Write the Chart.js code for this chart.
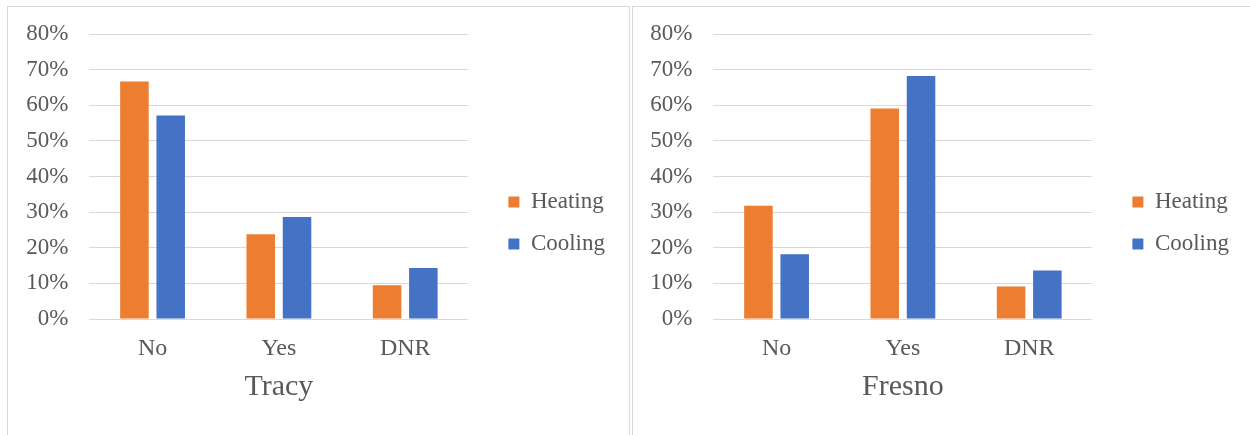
<!DOCTYPE html>
<html>
<head>
<meta charset="utf-8">
<script src="https://cdn.jsdelivr.net/npm/chart.js@4/dist/chart.umd.min.js"></script>
<style>
  html, body { margin: 0; padding: 0; background: #ffffff; overflow: hidden; }
  body { width: 1250px; height: 435px; position: relative; }
  .frame { position: absolute; border: 1px solid #d9d9d9; box-sizing: border-box; }
  canvas { position: absolute; }
</style>
</head>
<body>
<div class="frame" style="left:7px; top:6px; width:623px; height:460px;"></div>
<div class="frame" style="left:632px; top:6px; width:700px; height:460px;"></div>
<canvas id="tracy" width="621" height="430" style="left:8px; top:7px;"></canvas>
<canvas id="fresno" width="621" height="430" style="left:632px; top:7px;"></canvas>
<script>
// Survey answers by site, share of respondents (%)
const categories = ['No', 'Yes', 'DNR'];
const seriesNames = ['Heating', 'Cooling'];
const tracyHeating = [66.7, 23.8, 9.5];
const tracyCooling = [57.1, 28.6, 14.3];
const fresnoHeating = [31.8, 59.1, 9.1];
const fresnoCooling = [18.2, 68.2, 13.6];
const yTicks = [0, 10, 20, 30, 40, 50, 60, 70, 80];

const ORANGE = '#ED7D31';
const BLUE = '#4472C4';
const TEXT = '#595959';
const GRID = '#d9d9d9';
const SERIF = '"Liberation Serif", "Times New Roman", serif';

Chart.defaults.font.family = SERIF;
Chart.defaults.color = TEXT;

function makeChart(id, title, heating, cooling) {
  return new Chart(document.getElementById(id), {
    type: 'bar',
    data: {
      labels: categories,
      datasets: [
        { label: seriesNames[0], data: heating, backgroundColor: ORANGE, borderWidth: 0,
          categoryPercentage: 0.5745, barPercentage: 0.786 },
        { label: seriesNames[1], data: cooling, backgroundColor: BLUE, borderWidth: 0,
          categoryPercentage: 0.5745, barPercentage: 0.786 }
      ]
    },
    options: {
      responsive: false,
      animation: false,
      devicePixelRatio: 1,
      layout: { padding: { top: 27, right: 14, bottom: 25, left: 0 } },
      plugins: {
        tooltip: { enabled: false },
        legend: {
          position: 'right',
          maxWidth: 300,
          labels: {
            font: { size: 23, family: SERIF },
            color: TEXT,
            boxWidth: 11,
            boxHeight: 11,
            padding: 19
          }
        }
      },
      scales: {
        x: {
          grid: { display: false, drawTicks: false },
          border: { display: false },
          ticks: { font: { size: 24, family: SERIF }, color: TEXT, padding: 15 },
          title: { display: true, text: title, font: { size: 30, family: SERIF }, color: TEXT,
                   padding: { top: 4, bottom: 7 } },
          afterFit: (s) => { s.height = 93; }
        },
        y: {
          min: 0, max: 80,
          afterBuildTicks: (s) => { s.ticks = yTicks.map(v => ({ value: v })); },
          grid: { color: GRID, lineWidth: 1, drawTicks: false },
          border: { display: false },
          ticks: { font: { size: 23, family: SERIF }, color: TEXT, padding: 21,
                   callback: (v) => v + '%' },
          afterFit: (s) => { s.width = 81.4; s.paddingTop = 0; s.paddingBottom = 0; }
        },
        gap: {
          position: 'right',
          display: true,
          grid: { display: false },
          border: { display: false },
          ticks: { display: false },
          afterFit: (s) => { s.width = 21; }
        }
      }
    }
  });
}

makeChart('tracy', 'Tracy', tracyHeating, tracyCooling);
makeChart('fresno', 'Fresno', fresnoHeating, fresnoCooling);
</script>
</body>
</html>
